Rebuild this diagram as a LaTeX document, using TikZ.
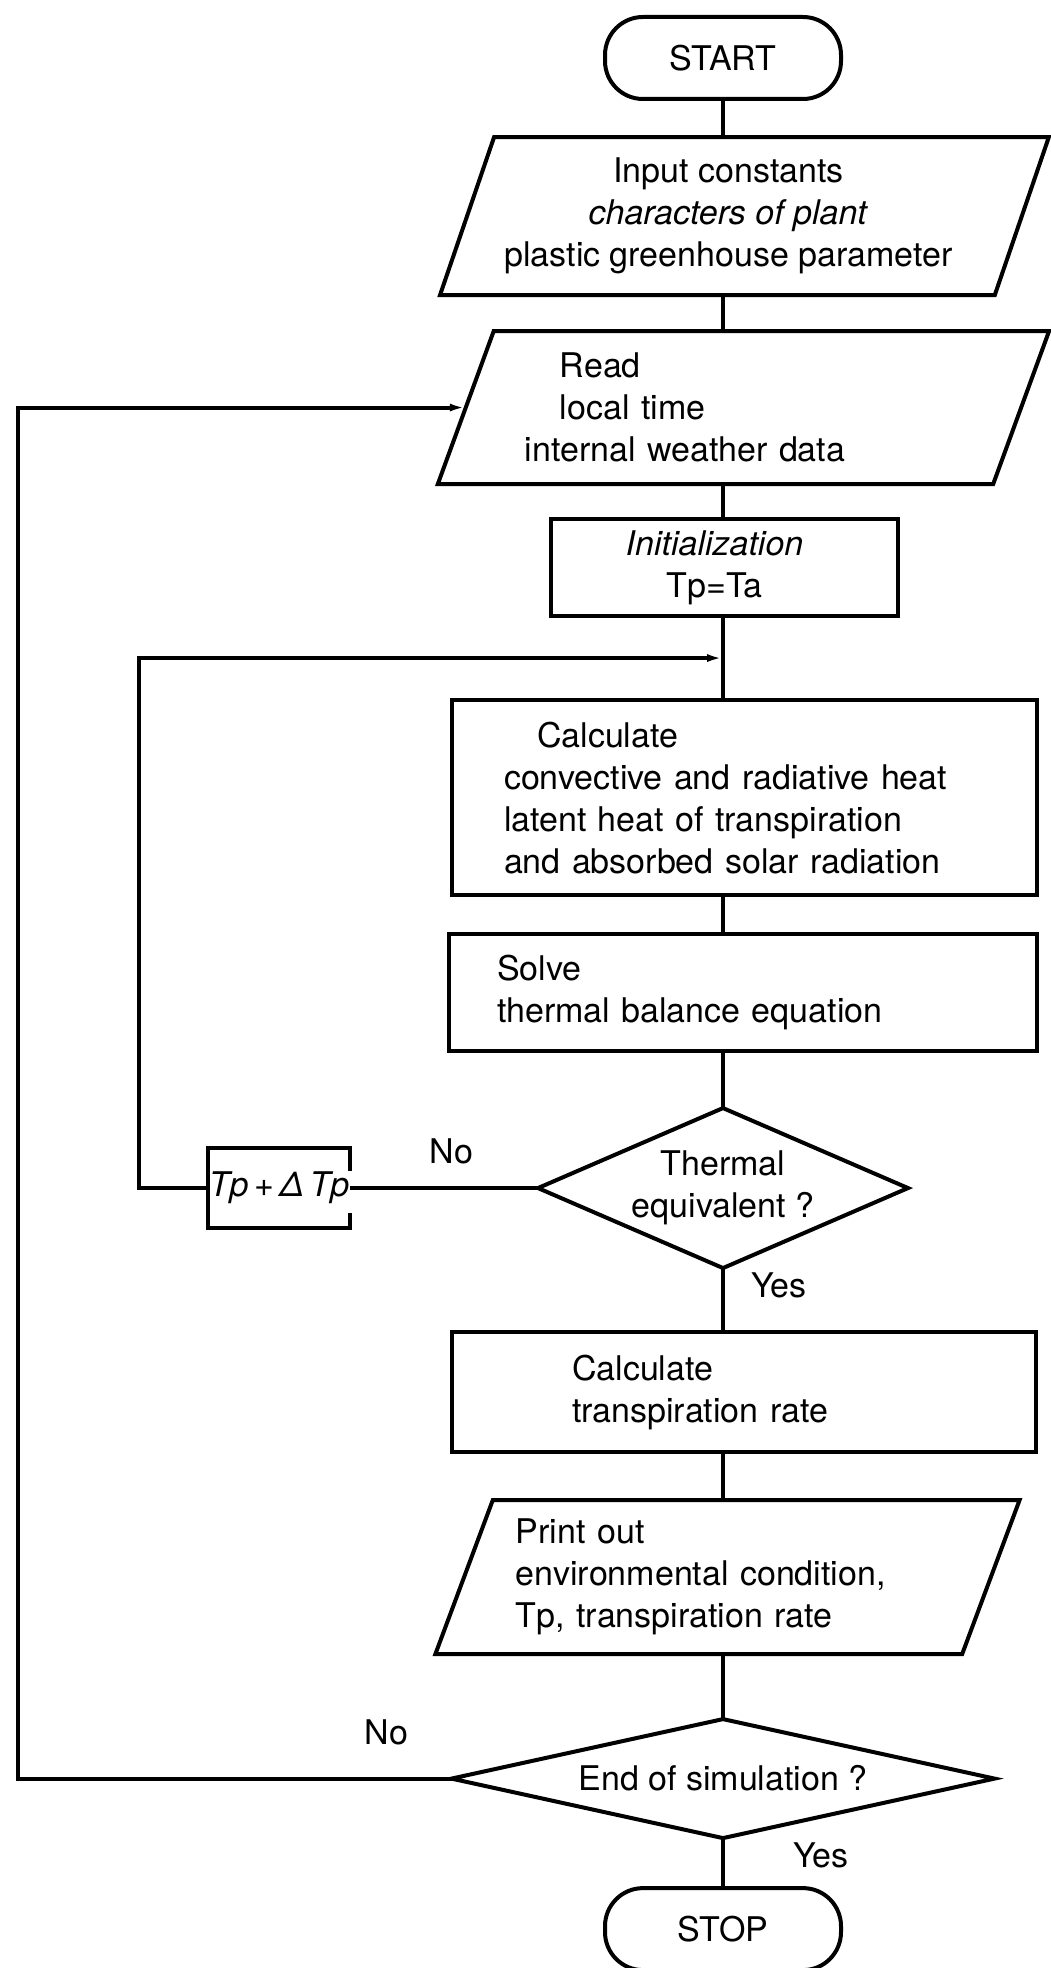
\documentclass[tikz,border=0pt]{standalone}
\usepackage{fontspec}
\setmainfont{TeX Gyre Heros}
\usepackage{tikz}
\usetikzlibrary{positioning, arrows.meta, shapes.geometric}

\begin{document}
\begin{tikzpicture}[
    font=\fontsize{17pt}{21pt}\selectfont,
    line width=2pt,
    terminal/.style = {draw, rounded corners=19pt, minimum width=118pt, minimum height=41pt, inner sep=0pt, outer sep=0pt},
    io/.style = {draw, trapezium, trapezium left angle=67, trapezium right angle=113, trapezium stretches=true, inner sep=2pt, outer sep=0pt},
    process/.style = {draw, rectangle, inner sep=0pt, outer sep=0pt},
    decision/.style = {draw, diamond, inner sep=1pt, outer sep=0pt, align=center},
    incbox/.style = {minimum width=71pt, minimum height=40pt, inner sep=0pt, outer sep=0pt},
    arrow/.style = {-{Latex[length=8pt, width=4pt]}},
    lbl/.style = {inner sep=2pt, outer sep=0pt}
]
    \useasboundingbox (0,0) rectangle (525pt,-984pt);

    \node[terminal] (start) at (361.5pt,-29pt) {START};
    \node[io, below=19pt of start, xshift=10.75pt, minimum width=305.5pt, minimum height=79pt, align=center] (input) {Input constants\rule{16pt}{0pt}\\ \textit{characters of plant}\rule{16pt}{0pt}\\ plastic greenhouse parameter\rule{16pt}{0pt}};
    \node[io, below=18pt of input, xshift=-0.5pt, minimum width=306.5pt, minimum height=76.5pt, text width=218.5pt, align=left] (read) {\hspace*{17.5pt}Read\\ \hspace*{17.5pt}local time\\ internal weather data};
    \node[process, below=17.5pt of read, xshift=-9.5pt, minimum width=173.5pt, minimum height=48.5pt, align=center] (init) {\textit{Initialization}\rule{10pt}{0pt}\\ Tp=Ta\rule{10pt}{0pt}};
    \node[process, below=42pt of init, xshift=10pt, minimum width=292.5pt, minimum height=97.5pt, text width=240.5pt, align=left] (calc) {\hspace*{16.5pt}Calculate\\ convective and radiative heat\\ latent heat of transpiration\\ and absorbed solar radiation};
    \node[process, below=19.5pt of calc, xshift=-0.75pt, minimum width=294pt, minimum height=58.5pt, text width=246pt, align=left] (solve) {Solve\\ thermal balance equation};
    \node[decision, below=28.5pt of solve, xshift=-10pt, aspect=2.3, minimum width=185pt, minimum height=80pt] (thermal) {Thermal\\ equivalent ?};
    \node[incbox, left=94pt of thermal] (tpinc) {\textit{Tp}\,+\,\textit{Δ\,Tp}};
    \node[process, below=32pt of thermal, xshift=10.5pt, minimum width=292pt, minimum height=60pt, text width=172pt, align=left] (rate) {Calculate\\ transpiration rate};
    \node[io, below=24pt of rate, xshift=-8.25pt, minimum width=292.5pt, minimum height=77pt, text width=211.5pt, align=left] (print) {Print out\\ environmental condition,\\ Tp, transpiration rate};
    \node[decision, below=32.5pt of print, xshift=-2.25pt, aspect=4.5, minimum width=271.5pt, minimum height=59.5pt] (endsim) {End of simulation ?};
    \node[terminal, below=25pt of endsim] (stop) {STOP};

    \coordinate (merge) at ([yshift=-21pt]init.south -| start);

    \draw ([yshift=-11.5pt]tpinc.north east) -- (tpinc.north east) -- (tpinc.north west) -- (tpinc.south west) -- (tpinc.south east) -- ([yshift=7.5pt]tpinc.south east);

    \draw (start.south) -- (input.north -| start);
    \draw (input.south -| start) -- (read.north -| start);
    \draw (read.south -| start) -- (init.north -| start);
    \draw (init.south -| start) -- (calc.north -| start);
    \draw (calc.south -| start) -- (solve.north -| start);
    \draw (solve.south -| start) -- (thermal.north);
    \draw (thermal.south) -- node[lbl, pos=0.27, right=12pt] {Yes} (rate.north -| start);
    \draw (rate.south -| start) -- (print.north -| start);
    \draw (print.south -| start) -- (endsim.north);
    \draw (endsim.south) -- node[lbl, pos=0.34, right=33pt] {Yes} (stop.north);
    \draw (thermal.west) -- node[lbl, pos=0.46, above=10pt] {No} (tpinc.east);
    \draw[arrow] (tpinc.west) -- ++(-34.5pt,0) |- (merge);
    \draw[arrow] (endsim.west) -- node[lbl, pos=0.15, above=15pt] {No} ++(-216.75pt,0) |- (read.west);
\end{tikzpicture}
\end{document}
